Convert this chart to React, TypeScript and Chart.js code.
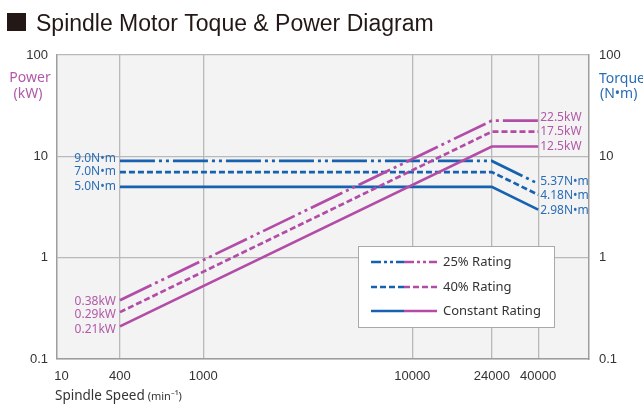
import React, { useEffect, useRef } from "react";
import { Chart, registerables } from "chart.js";

Chart.register(...registerables);

// ---- data ----
const speeds = [400, 24000, 40000];
const power25 = [0.38, 22.5, 22.5];
const power40 = [0.29, 17.5, 17.5];
const powerConst = [0.21, 12.5, 12.5];
const torque25 = [9.0, 9.0, 5.37];
const torque40 = [7.0, 7.0, 4.18];
const torqueConst = [5.0, 5.0, 2.98];

const xTickValues = [210, 400, 1000, 10000, 24000, 40000];
const xTickLabels = ["10", "400", "1000", "10000", "24000", "40000"];
const yTickValues = [0.1, 1, 10, 100];
const yTickLabels = ["0.1", "1", "10", "100"];

const powerStartLabels = ["0.38kW", "0.29kW", "0.21kW"];
const powerEndLabels = ["22.5kW", "17.5kW", "12.5kW"];
const torqueStartLabels = ["9.0N•m", "7.0N•m", "5.0N•m"];
const torqueEndLabels = ["5.37N•m", "4.18N•m", "2.98N•m"];
const legendLabels = ["25% Rating", "40% Rating", "Constant Rating"];

// ---- styles ----
const BLUE = "#1762b0";
const MAG = "#b24ca7";
const BLUE_TXT = "#2a6db6";
const MAG_TXT = "#b259a8";
const DASHES = [[35, 4, 3, 4, 3, 4], [6, 3], []];
const LEGEND_DASHES = [[10, 3, 3, 3, 3, 3], [6, 3], []];
const powerStartDy = [1, 2, 3.5];
const powerEndDy = [-3.5, 0, 0];
const torqueStartDy = [-2.5, 0, 0];
const torqueEndDy = [-2, 0.5, 1];

export default function App() {
  const ref = useRef<HTMLCanvasElement>(null);

  useEffect(() => {
    const canvas = ref.current!;
    const mk = (ys: number[], color: string, dash: number[]) => ({
      data: speeds.map((x, i) => ({ x, y: ys[i] })),
      borderColor: color,
      borderDash: dash,
      borderWidth: 2.7,
      pointRadius: 0,
      fill: false,
      tension: 0,
      borderCapStyle: "butt",
      borderJoinStyle: "miter",
    });

    const bgPlugin = {
      id: "bg",
      beforeDraw(chart: any) {
        const { ctx, chartArea: a } = chart;
        ctx.save();
        ctx.fillStyle = "#ffffff";
        ctx.fillRect(0, 0, chart.width, chart.height);
        ctx.fillStyle = "#f3f3f3";
        ctx.fillRect(a.left, a.top, a.right - a.left, a.bottom - a.top);
        ctx.restore();
      },
    };

    const annotPlugin = {
      id: "annot",
      afterDraw(chart: any) {
        const { ctx } = chart;
        const xs = chart.scales.x;
        const ys = chart.scales.y;
        ctx.save();
        // title
        ctx.fillStyle = "#231815";
        ctx.fillRect(7, 13, 19, 18);
        ctx.font = '23px "Liberation Sans"';
        ctx.textAlign = "left";
        ctx.textBaseline = "alphabetic";
        ctx.fillText("Spindle Motor Toque & Power Diagram", 36, 31);

        // axis titles
        ctx.font = '14px "Noto Sans"';
        ctx.textBaseline = "middle";
        ctx.fillStyle = MAG_TXT;
        ctx.textAlign = "center";
        ctx.fillText("Power", 30, 78);
        ctx.fillText("(kW)", 28, 94);
        ctx.fillStyle = BLUE_TXT;
        ctx.textAlign = "left";
        ctx.fillText("Torque", 599, 79);
        ctx.fillText("(N•m)", 600, 94);

        // x axis title
        ctx.fillStyle = "#333";
        ctx.textBaseline = "alphabetic";
        ctx.font = '13.5px "Noto Sans"';
        ctx.fillText("Spindle Speed", 55, 400);
        const w = ctx.measureText("Spindle Speed").width;
        ctx.font = '11px "Noto Sans"';
        ctx.fillText("(min⁻¹)", 55 + w + 3, 400);

        // line labels
        ctx.font = '12px "Noto Sans"';
        ctx.textBaseline = "middle";
        const x0 = xs.getPixelForValue(speeds[0]) - 4;
        const x1 = xs.getPixelForValue(speeds[2]) + 2;
        const pStart = [power25[0], power40[0], powerConst[0]];
        const pEnd = [power25[2], power40[2], powerConst[2]];
        const tStart = [torque25[0], torque40[0], torqueConst[0]];
        const tEnd = [torque25[2], torque40[2], torqueConst[2]];
        for (let i = 0; i < 3; i++) {
          ctx.fillStyle = MAG_TXT;
          ctx.textAlign = "right";
          ctx.fillText(powerStartLabels[i], x0, ys.getPixelForValue(pStart[i]) + powerStartDy[i]);
          ctx.textAlign = "left";
          ctx.fillText(powerEndLabels[i], x1, ys.getPixelForValue(pEnd[i]) + powerEndDy[i]);
          ctx.fillStyle = BLUE_TXT;
          ctx.textAlign = "right";
          ctx.fillText(torqueStartLabels[i], x0, ys.getPixelForValue(tStart[i]) + torqueStartDy[i]);
          ctx.textAlign = "left";
          ctx.fillText(torqueEndLabels[i], x1, ys.getPixelForValue(tEnd[i]) + torqueEndDy[i]);
        }

        // legend
        ctx.fillStyle = "#ffffff";
        ctx.fillRect(358.5, 246.5, 196, 81);
        ctx.strokeStyle = "#a9a9a9";
        ctx.lineWidth = 1;
        ctx.strokeRect(358.5, 246.5, 196, 81);
        const rows = [262, 287, 311];
        for (let i = 0; i < 3; i++) {
          ctx.lineWidth = 2.5;
          ctx.setLineDash(LEGEND_DASHES[i]);
          ctx.strokeStyle = BLUE;
          ctx.beginPath();
          ctx.moveTo(371, rows[i]);
          ctx.lineTo(404, rows[i]);
          ctx.stroke();
          ctx.strokeStyle = MAG;
          ctx.beginPath();
          ctx.moveTo(404, rows[i]);
          ctx.lineTo(437, rows[i]);
          ctx.stroke();
          ctx.setLineDash([]);
          ctx.fillStyle = "#333";
          ctx.font = '13px "Noto Sans"';
          ctx.textAlign = "left";
          ctx.textBaseline = "middle";
          ctx.fillText(legendLabels[i], 443, rows[i]);
        }
        ctx.restore();
      },
    };

    const tickFont = { family: "Liberation Sans", size: 13 };
    const gridColor = "#b9b9b9";
    const borderColor = "#9d9d9d";

    const chart = new Chart(canvas, {
      type: "line",
      data: {
        datasets: [
          mk(power25, MAG, DASHES[0]),
          mk(power40, MAG, DASHES[1]),
          mk(powerConst, MAG, DASHES[2]),
          mk(torque25, BLUE, DASHES[0]),
          mk(torque40, BLUE, DASHES[1]),
          mk(torqueConst, BLUE, DASHES[2]),
        ] as any,
      },
      options: {
        responsive: false,
        animation: false,
        layout: { padding: { top: 55, left: 0, right: 0, bottom: 0 } },
        plugins: { legend: { display: false }, tooltip: { enabled: false }, title: { display: false } },
        scales: {
          x: {
            type: "logarithmic",
            min: 200,
            max: 70000,
            afterBuildTicks: (s: any) => {
              s.ticks = xTickValues.map((v) => ({ value: v }));
            },
            afterFit: (s: any) => {
              s.height = 46;
            },
            ticks: {
              autoSkip: false,
              maxRotation: 0,
              minRotation: 0,
              padding: 10,
              color: "#333",
              font: tickFont,
              callback: (_v: any, i: number) => xTickLabels[i],
            },
            grid: {
              color: (c: any) => (c.tick && c.tick.value === 210 ? "rgba(0,0,0,0)" : gridColor),
              lineWidth: 1.3,
              drawTicks: false,
            },
            border: { display: true, color: borderColor, width: 1.5 },
          },
          y: {
            type: "logarithmic",
            position: "left",
            min: 0.1,
            max: 100,
            afterBuildTicks: (s: any) => {
              s.ticks = yTickValues.map((v) => ({ value: v }));
            },
            afterFit: (s: any) => {
              s.width = 57;
            },
            ticks: {
              padding: 9,
              color: "#333",
              font: tickFont,
              callback: (_v: any, i: number) => yTickLabels[i],
            },
            grid: { color: gridColor, lineWidth: 1.3, drawTicks: false },
            border: { display: true, color: borderColor, width: 1.5 },
          },
          y2: {
            type: "logarithmic",
            position: "right",
            min: 0.1,
            max: 100,
            afterBuildTicks: (s: any) => {
              s.ticks = yTickValues.map((v) => ({ value: v }));
            },
            afterFit: (s: any) => {
              s.width = 54;
            },
            ticks: {
              padding: 10,
              color: "#333",
              font: tickFont,
              callback: (_v: any, i: number) => yTickLabels[i],
            },
            grid: { drawOnChartArea: false, drawTicks: false },
            border: { display: true, color: borderColor, width: 1.5 },
          },
        },
      } as any,
      plugins: [bgPlugin, annotPlugin],
    });
    return () => chart.destroy();
  }, []);

  return (
    <div style={{ position: "absolute", left: 0, top: 0, width: 643, height: 405, background: "#fff" }}>
      <canvas ref={ref} width={643} height={405} style={{ display: "block" }} />
    </div>
  );
}
